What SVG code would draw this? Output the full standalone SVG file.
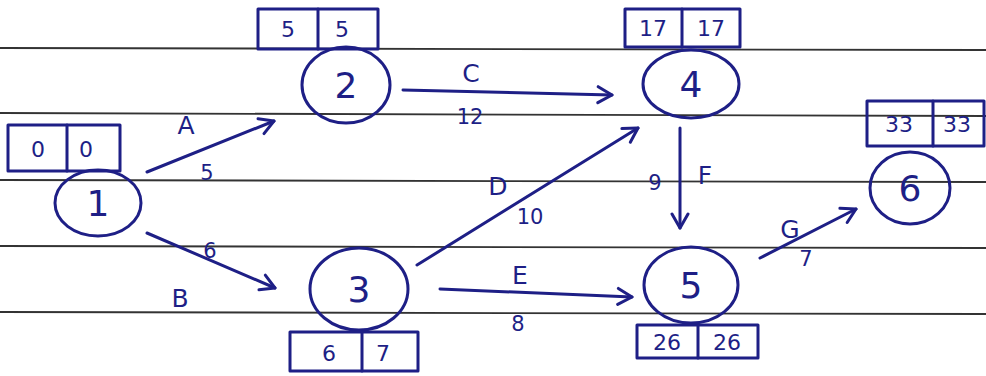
<svg xmlns="http://www.w3.org/2000/svg" width="986" height="376" viewBox="0 0 986 376">
<defs>
<marker id="arr" viewBox="0 0 20 20" refX="18" refY="10" markerWidth="20" markerHeight="20" markerUnits="userSpaceOnUse" orient="auto">
<path d="M4,2 L18,10 L4,18" fill="none" stroke="#1e1f86" stroke-width="3" stroke-linecap="round" stroke-linejoin="round"/>
</marker>
<style>
.rule{stroke:#333333;stroke-width:1.8}
.ink{fill:none;stroke:#1e1f86;stroke-width:3;stroke-linecap:round;stroke-linejoin:round}
.big{font-family:"DejaVu Sans",sans-serif;font-size:36px;fill:#1e1f86;text-anchor:middle}
.box{font-family:"DejaVu Sans",sans-serif;font-size:22px;fill:#1e1f86;text-anchor:middle}
.lab{font-family:"DejaVu Sans",sans-serif;font-size:25px;fill:#1e1f86;text-anchor:middle}
.num{font-family:"DejaVu Sans",sans-serif;font-size:21px;fill:#1e1f86;text-anchor:middle}
.edge{fill:none;stroke:#1e1f86;stroke-width:3;stroke-linecap:round;marker-end:url(#arr)}
</style>
</defs>
<rect width="986" height="376" fill="#ffffff"/>
<g id="rules">
<line class="rule" x1="0" y1="48" x2="986" y2="50"/>
<line class="rule" x1="0" y1="113" x2="986" y2="116"/>
<line class="rule" x1="0" y1="180" x2="986" y2="182"/>
<line class="rule" x1="0" y1="246" x2="986" y2="248"/>
<line class="rule" x1="0" y1="312" x2="986" y2="314"/>
</g>
<g id="connectors">
<line class="edge" x1="147" y1="172" x2="274" y2="121"/>
<line class="edge" x1="147" y1="233" x2="275" y2="288"/>
<line class="edge" x1="403" y1="90" x2="612" y2="95"/>
<line class="edge" x1="417" y1="265" x2="638" y2="128"/>
<line class="edge" x1="440" y1="289" x2="632" y2="297"/>
<line class="edge" x1="680" y1="128" x2="680" y2="228"/>
<line class="edge" x1="760" y1="258" x2="856" y2="209"/>
<text class="lab" x="186" y="134">A</text>
<text class="num" x="207" y="180">5</text>
<text class="lab" x="180" y="307">B</text>
<text class="num" x="210" y="258">6</text>
<text class="lab" x="471" y="82">C</text>
<text class="num" x="470" y="124">12</text>
<text class="lab" x="498" y="195">D</text>
<text class="num" x="530" y="224">10</text>
<text class="lab" x="520" y="284">E</text>
<text class="num" x="518" y="331">8</text>
<text class="lab" x="705" y="184">F</text>
<text class="num" x="655" y="190">9</text>
<text class="lab" x="790" y="238">G</text>
<text class="num" x="806" y="266">7</text>
</g>
<g id="node1">
<ellipse class="ink" cx="98" cy="203" rx="43" ry="33"/>
<text class="big" x="98" y="216">1</text>
<rect class="ink" x="8" y="125" width="112" height="46"/>
<line class="ink" x1="67" y1="125" x2="67" y2="171"/>
<text class="box" x="38" y="157">0</text>
<text class="box" x="86" y="157">0</text>
</g>
<g id="node2">
<ellipse class="ink" cx="346" cy="85" rx="44" ry="38"/>
<text class="big" x="346" y="98">2</text>
<rect class="ink" x="258" y="9" width="120" height="40"/>
<line class="ink" x1="318" y1="9" x2="318" y2="49"/>
<text class="box" x="288" y="37">5</text>
<text class="box" x="342" y="37">5</text>
</g>
<g id="node3">
<ellipse class="ink" cx="359" cy="289" rx="49" ry="41"/>
<text class="big" x="359" y="302">3</text>
<rect class="ink" x="290" y="332" width="128" height="39"/>
<line class="ink" x1="362" y1="332" x2="362" y2="371"/>
<text class="box" x="329" y="361">6</text>
<text class="box" x="383" y="361">7</text>
</g>
<g id="node4">
<ellipse class="ink" cx="691" cy="84" rx="48" ry="34"/>
<text class="big" x="691" y="97">4</text>
<rect class="ink" x="625" y="9" width="115" height="38"/>
<line class="ink" x1="682" y1="9" x2="682" y2="47"/>
<text class="box" x="653" y="36">17</text>
<text class="box" x="711" y="36">17</text>
</g>
<g id="node5">
<ellipse class="ink" cx="691" cy="285" rx="47" ry="38"/>
<text class="big" x="691" y="298">5</text>
<rect class="ink" x="637" y="325" width="121" height="33"/>
<line class="ink" x1="698" y1="325" x2="698" y2="358"/>
<text class="box" x="667" y="350">26</text>
<text class="box" x="727" y="350">26</text>
</g>
<g id="node6">
<ellipse class="ink" cx="910" cy="188" rx="40" ry="36"/>
<text class="big" x="910" y="201">6</text>
<rect class="ink" x="867" y="101" width="117" height="45"/>
<line class="ink" x1="933" y1="101" x2="933" y2="146"/>
<text class="box" x="899" y="132">33</text>
<text class="box" x="957" y="132">33</text>
</g>
</svg>
